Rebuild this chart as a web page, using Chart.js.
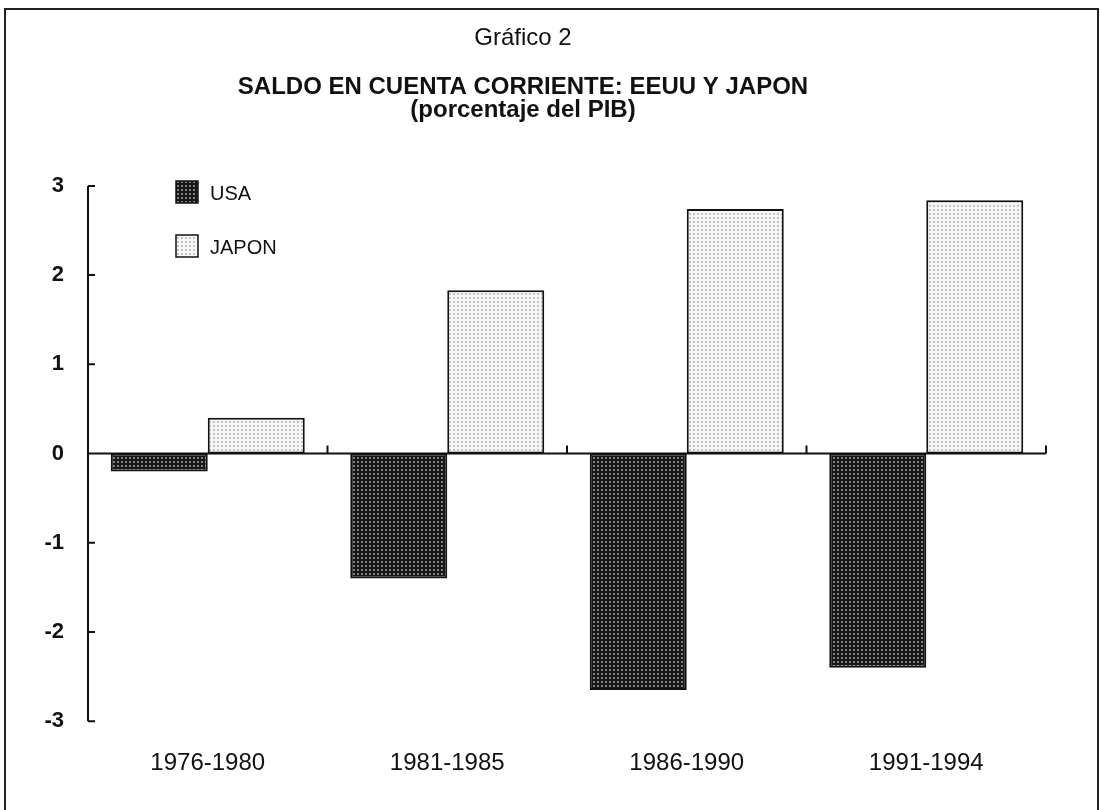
<!DOCTYPE html>
<html>
<head>
<meta charset="utf-8">
<script src="https://cdn.jsdelivr.net/npm/chart.js@4/dist/chart.umd.min.js"></script>
<style>
  html, body { margin: 0; padding: 0; background: #fff; overflow: hidden; }
  #wrap { position: relative; width: 1100px; height: 810px; }
  #frame {
    position: absolute; left: 4px; top: 8px; width: 1091px; height: 900px;
    border: 2px solid #222; pointer-events: none;
  }
</style>
</head>
<body>
<div id="wrap">
  <canvas id="chart" width="1100" height="810"></canvas>
  <div id="frame"></div>
</div>
<script>
// Datos (porcentaje del PIB)
const periods = ['1976-1980', '1981-1985', '1986-1990', '1991-1994'];
const usa = [-0.2, -1.4, -2.65, -2.4];
const japon = [0.4, 1.83, 2.74, 2.84];
const yTicks = [3, 2, 1, 0, -1, -2, -3];

const FONT = '"Liberation Sans", Arial, Helvetica, sans-serif';

// trama de puntos como en el gráfico impreso
function dotPattern(bg, dot) {
  const c = document.createElement('canvas');
  c.width = 4; c.height = 4;
  const g = c.getContext('2d');
  g.fillStyle = bg; g.fillRect(0, 0, 4, 4);
  g.fillStyle = dot; g.fillRect(1, 1, 2, 2);
  return g.createPattern(c, 'repeat');
}
const usaFill = dotPattern('#181818', '#808080');
const japonFill = dotPattern('#f6f6f6', '#c4c4c4');

// ejes dibujados a mano: eje Y con marcas hacia dentro, línea del cero con marcas hacia arriba
const axesPlugin = {
  id: 'axes',
  afterDatasetsDraw(chart) {
    const { ctx, chartArea, scales: { x, y } } = chart;
    ctx.save();
    ctx.strokeStyle = '#111';
    ctx.lineWidth = 2;
    const ax = chartArea.left;
    ctx.beginPath();
    ctx.moveTo(ax, y.getPixelForValue(3));
    ctx.lineTo(ax, y.getPixelForValue(-3));
    yTicks.forEach(v => {
      const py = y.getPixelForValue(v);
      ctx.moveTo(ax, py);
      ctx.lineTo(ax + 7, py);
    });
    const zy = y.getPixelForValue(0);
    ctx.moveTo(ax, zy);
    ctx.lineTo(chartArea.right, zy);
    periods.forEach((p, i) => {
      const bx = i < periods.length - 1
        ? (x.getPixelForValue(i) + x.getPixelForValue(i + 1)) / 2
        : chartArea.right;
      ctx.moveTo(bx, zy);
      ctx.lineTo(bx, zy - 8);
    });
    ctx.stroke();
    ctx.restore();
  }
};

// leyenda vertical dentro del área
const legendPlugin = {
  id: 'boxLegend',
  afterDraw(chart) {
    const { ctx } = chart;
    const rows = [192, 246];
    ctx.save();
    chart.data.datasets.forEach((ds, i) => {
      const cy = rows[i];
      ctx.fillStyle = ds.backgroundColor;
      ctx.fillRect(176, cy - 11, 22, 22);
      ctx.strokeStyle = '#111';
      ctx.lineWidth = 1.5;
      ctx.strokeRect(176, cy - 11, 22, 22);
      ctx.fillStyle = '#111';
      ctx.font = '20px ' + FONT;
      ctx.textBaseline = 'middle';
      ctx.fillText(ds.label, 210, cy + 2);
    });
    ctx.restore();
  }
};

new Chart(document.getElementById('chart'), {
  type: 'bar',
  data: {
    labels: periods,
    datasets: [
      { label: 'USA', data: usa, backgroundColor: usaFill },
      { label: 'JAPON', data: japon, backgroundColor: japonFill }
    ]
  },
  options: {
    responsive: false,
    animation: false,
    devicePixelRatio: 1,
    layout: { padding: { left: 0, right: 54, top: 0, bottom: 4 } },
    datasets: {
      bar: {
        categoryPercentage: 0.81,
        barPercentage: 1.0,
        borderColor: '#111',
        borderWidth: 2,
        borderSkipped: false
      }
    },
    plugins: {
      legend: { display: false },
      tooltip: { enabled: false },
      title: {
        display: true,
        text: 'Gráfico 2',
        color: '#111',
        font: { family: FONT, size: 24, weight: 'normal' },
        padding: { top: 24, bottom: 23 }
      },
      subtitle: {
        display: true,
        text: ['SALDO EN CUENTA CORRIENTE: EEUU Y JAPON', '(porcentaje del PIB)'],
        color: '#111',
        font: { family: FONT, size: 24, weight: 'bold', lineHeight: 0.96 },
        padding: { top: 0, bottom: 64 }
      }
    },
    scales: {
      x: {
        grid: { display: false, drawTicks: false },
        border: { display: false },
        ticks: { color: '#111', padding: 28, font: { family: FONT, size: 24 } }
      },
      y: {
        min: -3,
        max: 3,
        afterFit: s => { s.width = 88; },
        grid: { display: false, drawTicks: false },
        border: { display: false },
        ticks: {
          stepSize: 1,
          color: '#111',
          padding: 24,
          font: { family: FONT, size: 22, weight: 'bold' }
        }
      }
    }
  },
  plugins: [axesPlugin, legendPlugin]
});
</script>
</body>
</html>
